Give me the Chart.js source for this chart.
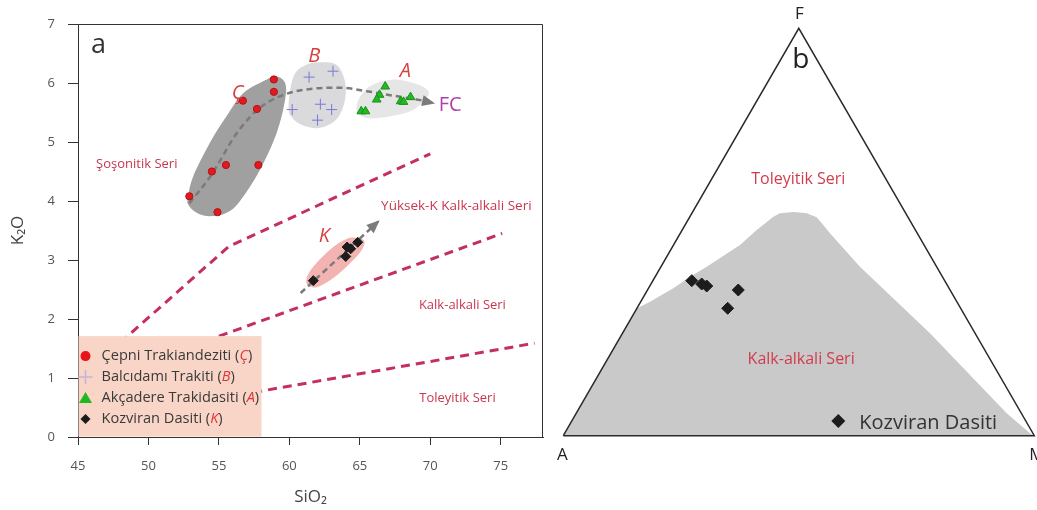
<!DOCTYPE html>
<html lang="tr">
<head>
<meta charset="utf-8">
<title>K2O–SiO2 ve AFM diyagramları</title>
<script src="https://cdn.jsdelivr.net/npm/chart.js@4.4.1/dist/chart.umd.min.js"></script>
<style>
  html, body { margin: 0; padding: 0; background: #ffffff; }
  #page { position: relative; width: 1037px; height: 510px; overflow: hidden; background: #fff; }
  #chartA { position: absolute; left: 0; top: 0; }
  #chartB { position: absolute; left: 545px; top: 0; }
</style>
</head>
<body>
<div id="page">
  <canvas id="chartA" width="545" height="510"></canvas>
  <canvas id="chartB" width="492" height="510"></canvas>
</div>
<script>
// ---------- (a) K2O vs SiO2, wt.% ----------
const xTicks = [45, 50, 55, 60, 65, 70, 75];
const yTicks = [0, 1, 2, 3, 4, 5, 6, 7];

// samples [SiO2, K2O]
const cepniPts     = [[52.9, 4.08], [54.9, 3.81], [54.5, 4.50], [55.5, 4.61], [57.8, 4.61],
                      [56.7, 5.70], [57.7, 5.56], [58.9, 6.06], [58.9, 5.85]];
const balcidamiPts = [[61.4, 6.10], [63.1, 6.20], [60.2, 5.55], [62.2, 5.64], [63.0, 5.55], [62.0, 5.37]];
const akcaderePts  = [[66.8, 5.94], [66.4, 5.80], [66.2, 5.72], [65.1, 5.52], [65.4, 5.52],
                      [67.9, 5.69], [68.1, 5.68], [68.6, 5.76]];
const kozviranPts  = [[61.7, 2.65], [64.0, 3.06], [64.1, 3.22], [64.35, 3.19], [64.85, 3.30]];

// series boundaries [SiO2, K2O]
const shoHkcaLine = [[48.0, 1.60], [55.7, 3.23], [70.0, 4.80]];
const hkcaCaLine  = [[48.0, 1.10], [75.1, 3.45]];
const caThLine    = [[48.0, 0.36], [77.4, 1.59]];

// fractional crystallisation trends [SiO2, K2O]
const fcTrend     = [[52.9, 3.96], [54.4, 4.42], [56.3, 5.16], [57.9, 5.58], [59.6, 5.80], [61.5, 5.90],
                     [63.6, 5.92], [65.5, 5.86], [67.5, 5.78], [69.3, 5.71], [70.2, 5.66]];
const kTrend      = [[60.8, 2.44], [66.3, 3.65]];

// outlines of the sample groups [SiO2, K2O]
const cepniField = [[52.82, 3.94], [53.42, 3.80], [54.37, 3.74], [55.55, 3.80], [56.50, 4.00], [57.92, 4.53],
                    [59.11, 5.16], [59.70, 5.72], [59.70, 6.00], [59.11, 6.11], [58.40, 6.06], [56.74, 5.83],
                    [55.55, 5.44], [54.37, 4.99], [53.18, 4.42], [52.82, 4.08]];
const balcidamiField = [[59.94, 5.61], [60.29, 6.11], [61.12, 6.30], [62.19, 6.35], [63.38, 6.30], [63.97, 6.00],
                        [63.90, 5.66], [63.33, 5.38], [62.19, 5.24], [60.98, 5.28], [60.20, 5.41]];
const akcadereField = [[64.80, 5.52], [65.39, 5.41], [66.46, 5.41], [67.88, 5.47], [68.83, 5.55], [69.66, 5.72],
                       [69.87, 5.86], [69.07, 5.98], [67.40, 6.06], [65.75, 5.95], [64.91, 5.72]];
const kozviranField = [[61.29, 2.58], [61.96, 2.54], [63.14, 2.70], [64.32, 2.95], [65.16, 3.18], [65.32, 3.32],
                       [64.92, 3.37], [64.09, 3.36], [62.90, 3.18], [61.71, 2.89], [61.24, 2.70]];

// ---------- (b) AFM ternary, [A, F, M] ----------
const afmCorners = [[100, 0, 0], [0, 100, 0], [0, 0, 100], [100, 0, 0]];
const calcAlkalineField = [
  [100, 0, 0], [68.7, 31.3, 0], [65.15, 32.89, 1.96], [58.56, 36.18, 5.26], [53.58, 39.03, 7.39],
  [48.81, 41.48, 9.71], [39.08, 46.81, 14.11], [33.69, 50.49, 15.82], [28.53, 53.76, 17.71],
  [26.71, 54.6, 18.69], [23.71, 54.91, 21.38], [21.02, 54.59, 24.39], [19.4, 53.61, 26.99],
  [18.94, 51.72, 29.34], [18.54, 49.68, 31.78], [16.27, 41.48, 42.25], [9.58, 25.13, 65.29],
  [3.11, 5.5, 91.39], [0.61, 0.59, 98.8], [0, 0, 100]
];
const kozviranAFM = [[53.7, 38.05, 8.25], [52.0, 37.24, 10.76], [51.18, 36.74, 12.08],
                     [44.97, 35.76, 19.27], [49.46, 31.27, 19.27]];

const FONT = "'Open Sans', 'Noto Sans', 'DejaVu Sans', sans-serif";
const RED_TXT = '#c8374f';
Chart.defaults.font.family = FONT;

const toXY = pts => pts.map(([x, y]) => ({ x, y }));
// ternary -> cartesian: base A(0)…M(100), height in % of F
const afmToXY = ([a, f, m]) => {
  const s = a + f + m, F = 100 * f / s, M = 100 * m / s;
  return { x: M + F / 2, y: F };
};

function smoothClosed(ctx, p) {
  const n = p.length;
  ctx.beginPath();
  ctx.moveTo(p[0].x, p[0].y);
  for (let i = 0; i < n; i++) {
    const p0 = p[(i - 1 + n) % n], p1 = p[i], p2 = p[(i + 1) % n], p3 = p[(i + 2) % n];
    ctx.bezierCurveTo(p1.x + (p2.x - p0.x) / 6, p1.y + (p2.y - p0.y) / 6,
                      p2.x - (p3.x - p1.x) / 6, p2.y - (p3.y - p1.y) / 6, p2.x, p2.y);
  }
  ctx.closePath();
}

const groupFields = [
  { pts: cepniField, color: '#a0a0a0' },
  { pts: balcidamiField, color: '#dadadd' },
  { pts: akcadereField, color: '#e6e6e6' },
  { pts: kozviranField, color: '#f2b3b1' }
];

const fieldsPlugin = {
  id: 'groupFields',
  beforeDatasetsDraw(chart) {
    const { ctx, chartArea: ca, scales: { x, y } } = chart;
    ctx.save();
    ctx.beginPath(); ctx.rect(ca.left, ca.top, ca.width, ca.height); ctx.clip();
    groupFields.forEach(f => {
      const p = f.pts.map(([vx, vy]) => ({ x: x.getPixelForValue(vx), y: y.getPixelForValue(vy) }));
      smoothClosed(ctx, p);
      ctx.fillStyle = f.color;
      ctx.fill();
    });
    ctx.restore();
  }
};

const arrowPlugin = {
  id: 'arrowHeads',
  afterDatasetsDraw(chart) {
    const ctx = chart.ctx;
    chart.data.datasets.forEach((ds, i) => {
      if (!ds.arrowHead) return;
      const els = chart.getDatasetMeta(i).data;
      const p = els[els.length - 1], q = els[els.length - 2];
      const ang = Math.atan2(p.y - q.y, p.x - q.x);
      ctx.save();
      ctx.translate(p.x, p.y);
      ctx.rotate(ang);
      ctx.beginPath();
      ctx.moveTo(2, 0); ctx.lineTo(-11, -5.5); ctx.lineTo(-11, 5.5); ctx.closePath();
      ctx.fillStyle = ds.borderColor;
      ctx.fill();
      ctx.restore();
    });
  }
};

function mixedText(ctx, parts, x, y) {
  parts.forEach(([t, font, color]) => {
    ctx.font = font; ctx.fillStyle = color;
    ctx.fillText(t, x, y);
    x += ctx.measureText(t).width;
  });
}

const legendItems = [
  { name: 'Çepni Trakiandeziti', tag: 'Ç', mark: 'circle' },
  { name: 'Balcıdamı Trakiti', tag: 'B', mark: 'cross' },
  { name: 'Akçadere Trakidasiti', tag: 'A', mark: 'triangle' },
  { name: 'Kozviran Dasiti', tag: 'K', mark: 'diamond' }
];

function drawMark(ctx, kind, x, y) {
  ctx.save();
  if (kind === 'circle') {
    ctx.beginPath(); ctx.arc(x, y, 5, 0, Math.PI * 2);
    ctx.fillStyle = '#e8141c'; ctx.fill();
  } else if (kind === 'cross') {
    ctx.strokeStyle = '#c4b4dc'; ctx.lineWidth = 1.5;
    ctx.beginPath(); ctx.moveTo(x - 7, y); ctx.lineTo(x + 7, y); ctx.moveTo(x, y - 7); ctx.lineTo(x, y + 7); ctx.stroke();
  } else if (kind === 'triangle') {
    ctx.beginPath(); ctx.moveTo(x, y - 6); ctx.lineTo(x + 6.5, y + 5); ctx.lineTo(x - 6.5, y + 5); ctx.closePath();
    ctx.fillStyle = '#1fb81f'; ctx.fill();
  } else {
    ctx.beginPath(); ctx.moveTo(x, y - 5); ctx.lineTo(x + 5, y); ctx.lineTo(x, y + 5); ctx.lineTo(x - 5, y); ctx.closePath();
    ctx.fillStyle = '#1c1c1c'; ctx.fill();
  }
  ctx.restore();
}

const labelsAPlugin = {
  id: 'labelsA',
  afterDatasetsDraw(chart) {
    const { ctx, chartArea: ca, scales: { x, y } } = chart;
    const px = v => x.getPixelForValue(v), py = v => y.getPixelForValue(v);
    ctx.save();
    ctx.textBaseline = 'middle';
    ctx.textAlign = 'center';
    // series names
    ctx.fillStyle = RED_TXT;
    [['Şoşonitik Seri', 49.17, 4.63, 13], ['Yüksek-K Kalk-alkali Seri', 71.85, 3.91, 13.5],
     ['Kalk-alkali Seri', 72.28, 2.23, 13], ['Toleyitik Seri', 71.93, 0.65, 13]]
      .forEach(([t, vx, vy, fs]) => { ctx.font = `${fs}px ${FONT}`; ctx.fillText(t, px(vx), py(vy)); });
    // group letters
    ctx.font = `italic 20px ${FONT}`;
    ctx.fillStyle = '#d8403f';
    [['Ç', 56.32, 5.83], ['B', 61.76, 6.45], ['A', 68.24, 6.20], ['K', 62.48, 3.40]]
      .forEach(([t, vx, vy]) => ctx.fillText(t, px(vx), py(vy)));
    ctx.font = `20px ${FONT}`;
    ctx.fillStyle = '#b03fae';
    ctx.textAlign = 'left';
    ctx.fillText('FC', px(70.6), py(5.62));
    // panel letter
    ctx.font = `27px ${FONT}`;
    ctx.fillStyle = '#333';
    ctx.textBaseline = 'alphabetic';
    ctx.fillText('a', ca.left + 13, ca.top + 29);
    // legend box
    const bx = ca.left + 0.5, by = py(1.71), bw = 183, bh = ca.bottom - 0.5 - by;
    ctx.fillStyle = '#f8d5c6';
    ctx.fillRect(bx, by, bw, bh);
    ctx.textBaseline = 'middle';
    legendItems.forEach((it, i) => {
      const cy = by + 20 + i * 21;
      drawMark(ctx, it.mark, ca.left + 7.5, cy);
      mixedText(ctx, [[it.name + ' (', `14.6px ${FONT}`, '#3a3a3a'],
                      [it.tag, `italic 14.6px ${FONT}`, '#e0353a'],
                      [')', `14.6px ${FONT}`, '#3a3a3a']], ca.left + 23.5, cy);
    });
    ctx.restore();
  },
  afterDraw(chart) {
    const { ctx, chartArea: ca } = chart;
    ctx.save();
    ctx.strokeStyle = '#333';
    ctx.lineWidth = 1;
    ctx.beginPath();
    ctx.moveTo(ca.left, ca.top + 0.5); ctx.lineTo(ca.right - 0.5, ca.top + 0.5); ctx.lineTo(ca.right - 0.5, ca.bottom);
    ctx.stroke();
    ctx.restore();
  }
};

const boundaryStyle = { type: 'line', borderColor: '#c42f5c', borderWidth: 3, borderDash: [9, 6],
                        pointRadius: 0, fill: false, tension: 0, order: 6 };
const trendStyle = { type: 'line', borderColor: '#7b7b7b', borderWidth: 2.5, borderDash: [6, 4],
                     pointRadius: 0, fill: false, arrowHead: true, order: 5 };

new Chart(document.getElementById('chartA'), {
  type: 'scatter',
  data: {
    datasets: [
      { ...boundaryStyle, label: 'Şoşonitik / Yüksek-K', data: toXY(shoHkcaLine) },
      { ...boundaryStyle, label: 'Yüksek-K / Kalk-alkali', data: toXY(hkcaCaLine) },
      { ...boundaryStyle, label: 'Kalk-alkali / Toleyitik', data: toXY(caThLine) },
      { ...trendStyle, label: 'FC', data: toXY(fcTrend), cubicInterpolationMode: 'monotone' },
      { ...trendStyle, label: 'K trend', data: toXY(kTrend) },
      { label: 'Çepni Trakiandeziti', data: toXY(cepniPts), pointStyle: 'circle', pointRadius: 3.6,
        backgroundColor: '#e01a1f', borderColor: '#b51015', borderWidth: 1, order: 1 },
      { label: 'Balcıdamı Trakiti', data: toXY(balcidamiPts), pointStyle: 'cross', pointRadius: 5.5,
        borderColor: '#7a78d8', borderWidth: 1, order: 1 },
      { label: 'Akçadere Trakidasiti', data: toXY(akcaderePts), pointStyle: 'triangle', pointRadius: 5,
        backgroundColor: '#22b922', borderColor: '#189018', borderWidth: 1, order: 1 },
      { label: 'Kozviran Dasiti', data: toXY(kozviranPts), pointStyle: 'rectRot', pointRadius: 5,
        backgroundColor: '#1c1c1c', borderColor: '#1c1c1c', borderWidth: 1, order: 1 }
    ]
  },
  options: {
    responsive: false,
    animation: false,
    layout: { autoPadding: false, padding: { left: 0, top: 24, right: 2, bottom: 0 } },
    plugins: { legend: { display: false }, tooltip: { enabled: false } },
    scales: {
      x: {
        type: 'linear', min: 45, max: 78,
        afterBuildTicks: s => { s.ticks = xTicks.map(v => ({ value: v })); },
        afterFit: s => { s.height = 73; },
        grid: { drawOnChartArea: false, drawTicks: true, tickLength: 8, color: '#333' },
        border: { display: true, color: '#333', width: 1 },
        ticks: { color: '#555', font: { size: 13 }, padding: 13, maxRotation: 0, autoSkip: false },
        title: { display: true, text: 'SiO₂', color: '#444', font: { size: 17 }, padding: { top: 0, bottom: 3 } }
      },
      y: {
        type: 'linear', min: 0, max: 7,
        afterBuildTicks: s => { s.ticks = yTicks.map(v => ({ value: v })); },
        afterFit: s => { s.width = 78; },
        grid: { drawOnChartArea: false, drawTicks: true, tickLength: 10, color: '#333' },
        border: { display: true, color: '#333', width: 1 },
        ticks: { color: '#555', font: { size: 13 }, padding: 13 },
        title: { display: true, text: 'K₂O', color: '#444', font: { size: 17 }, padding: { top: 8, bottom: 0 } }
      }
    }
  },
  plugins: [fieldsPlugin, arrowPlugin, labelsAPlugin]
});

// ---------- (b) AFM ----------
const labelsBPlugin = {
  id: 'labelsB',
  afterDatasetsDraw(chart) {
    const { ctx, scales: { x, y } } = chart;
    const P = afm => { const c = afmToXY(afm); return { x: x.getPixelForValue(c.x), y: y.getPixelForValue(c.y) }; };
    const A = P(afmCorners[0]), F = P(afmCorners[1]), M = P(afmCorners[2]);
    ctx.save();
    ctx.fillStyle = '#222';
    ctx.textBaseline = 'alphabetic';
    ctx.textAlign = 'center';
    ctx.font = `17px ${FONT}`;
    ctx.fillText('F', F.x + 0.5, F.y - 9);
    ctx.fillText('A', A.x - 1, A.y + 24);
    ctx.textAlign = 'left';
    ctx.fillText('M', M.x - 5, M.y + 24);
    ctx.textAlign = 'center';
    ctx.font = `28px ${FONT}`;
    ctx.fillText('b', F.x + 2, F.y + 40);
    ctx.textBaseline = 'middle';
    ctx.font = `16px ${FONT}`;
    ctx.fillStyle = '#d23c4c';
    ctx.fillText('Toleyitik Seri', x.getPixelForValue(49.9), y.getPixelForValue(63.0));
    ctx.fillText('Kalk-alkali Seri', x.getPixelForValue(50.5), y.getPixelForValue(18.75));
    // legend
    const lx = x.getPixelForValue(58.39), ly = y.getPixelForValue(3.58);
    ctx.beginPath();
    ctx.moveTo(lx, ly - 7); ctx.lineTo(lx + 7, ly); ctx.lineTo(lx, ly + 7); ctx.lineTo(lx - 7, ly); ctx.closePath();
    ctx.fillStyle = '#1c1c1c'; ctx.fill();
    ctx.textAlign = 'left';
    ctx.textBaseline = 'alphabetic';
    ctx.font = `20px ${FONT}`;
    ctx.fillStyle = '#333';
    ctx.fillText('Kozviran Dasiti', lx + 21, ly + 7.5);
    ctx.restore();
  }
};

new Chart(document.getElementById('chartB'), {
  type: 'scatter',
  data: {
    datasets: [
      { type: 'line', label: 'Kalk-alkali alan', data: calcAlkalineField.map(afmToXY),
        fill: 'shape', backgroundColor: '#c9c9c9', borderWidth: 0, borderColor: 'rgba(0,0,0,0)',
        pointRadius: 0, tension: 0, order: 3 },
      { type: 'line', label: 'AFM', data: afmCorners.map(afmToXY), fill: false,
        borderColor: '#2a2a2a', borderWidth: 1.5, pointRadius: 0, tension: 0, order: 2 },
      { label: 'Kozviran Dasiti', data: kozviranAFM.map(afmToXY), pointStyle: 'rectRot', pointRadius: 6,
        backgroundColor: '#1c1c1c', borderColor: '#1c1c1c', borderWidth: 1, order: 1 }
    ]
  },
  options: {
    responsive: false,
    animation: false,
    layout: { autoPadding: false, padding: 0 },
    plugins: { legend: { display: false }, tooltip: { enabled: false } },
    scales: {
      x: { type: 'linear', display: false, min: -3.885, max: 100.573 },
      y: { type: 'linear', display: false, min: -18.24, max: 106.95 }
    }
  },
  plugins: [labelsBPlugin]
});
</script>
</body>
</html>
